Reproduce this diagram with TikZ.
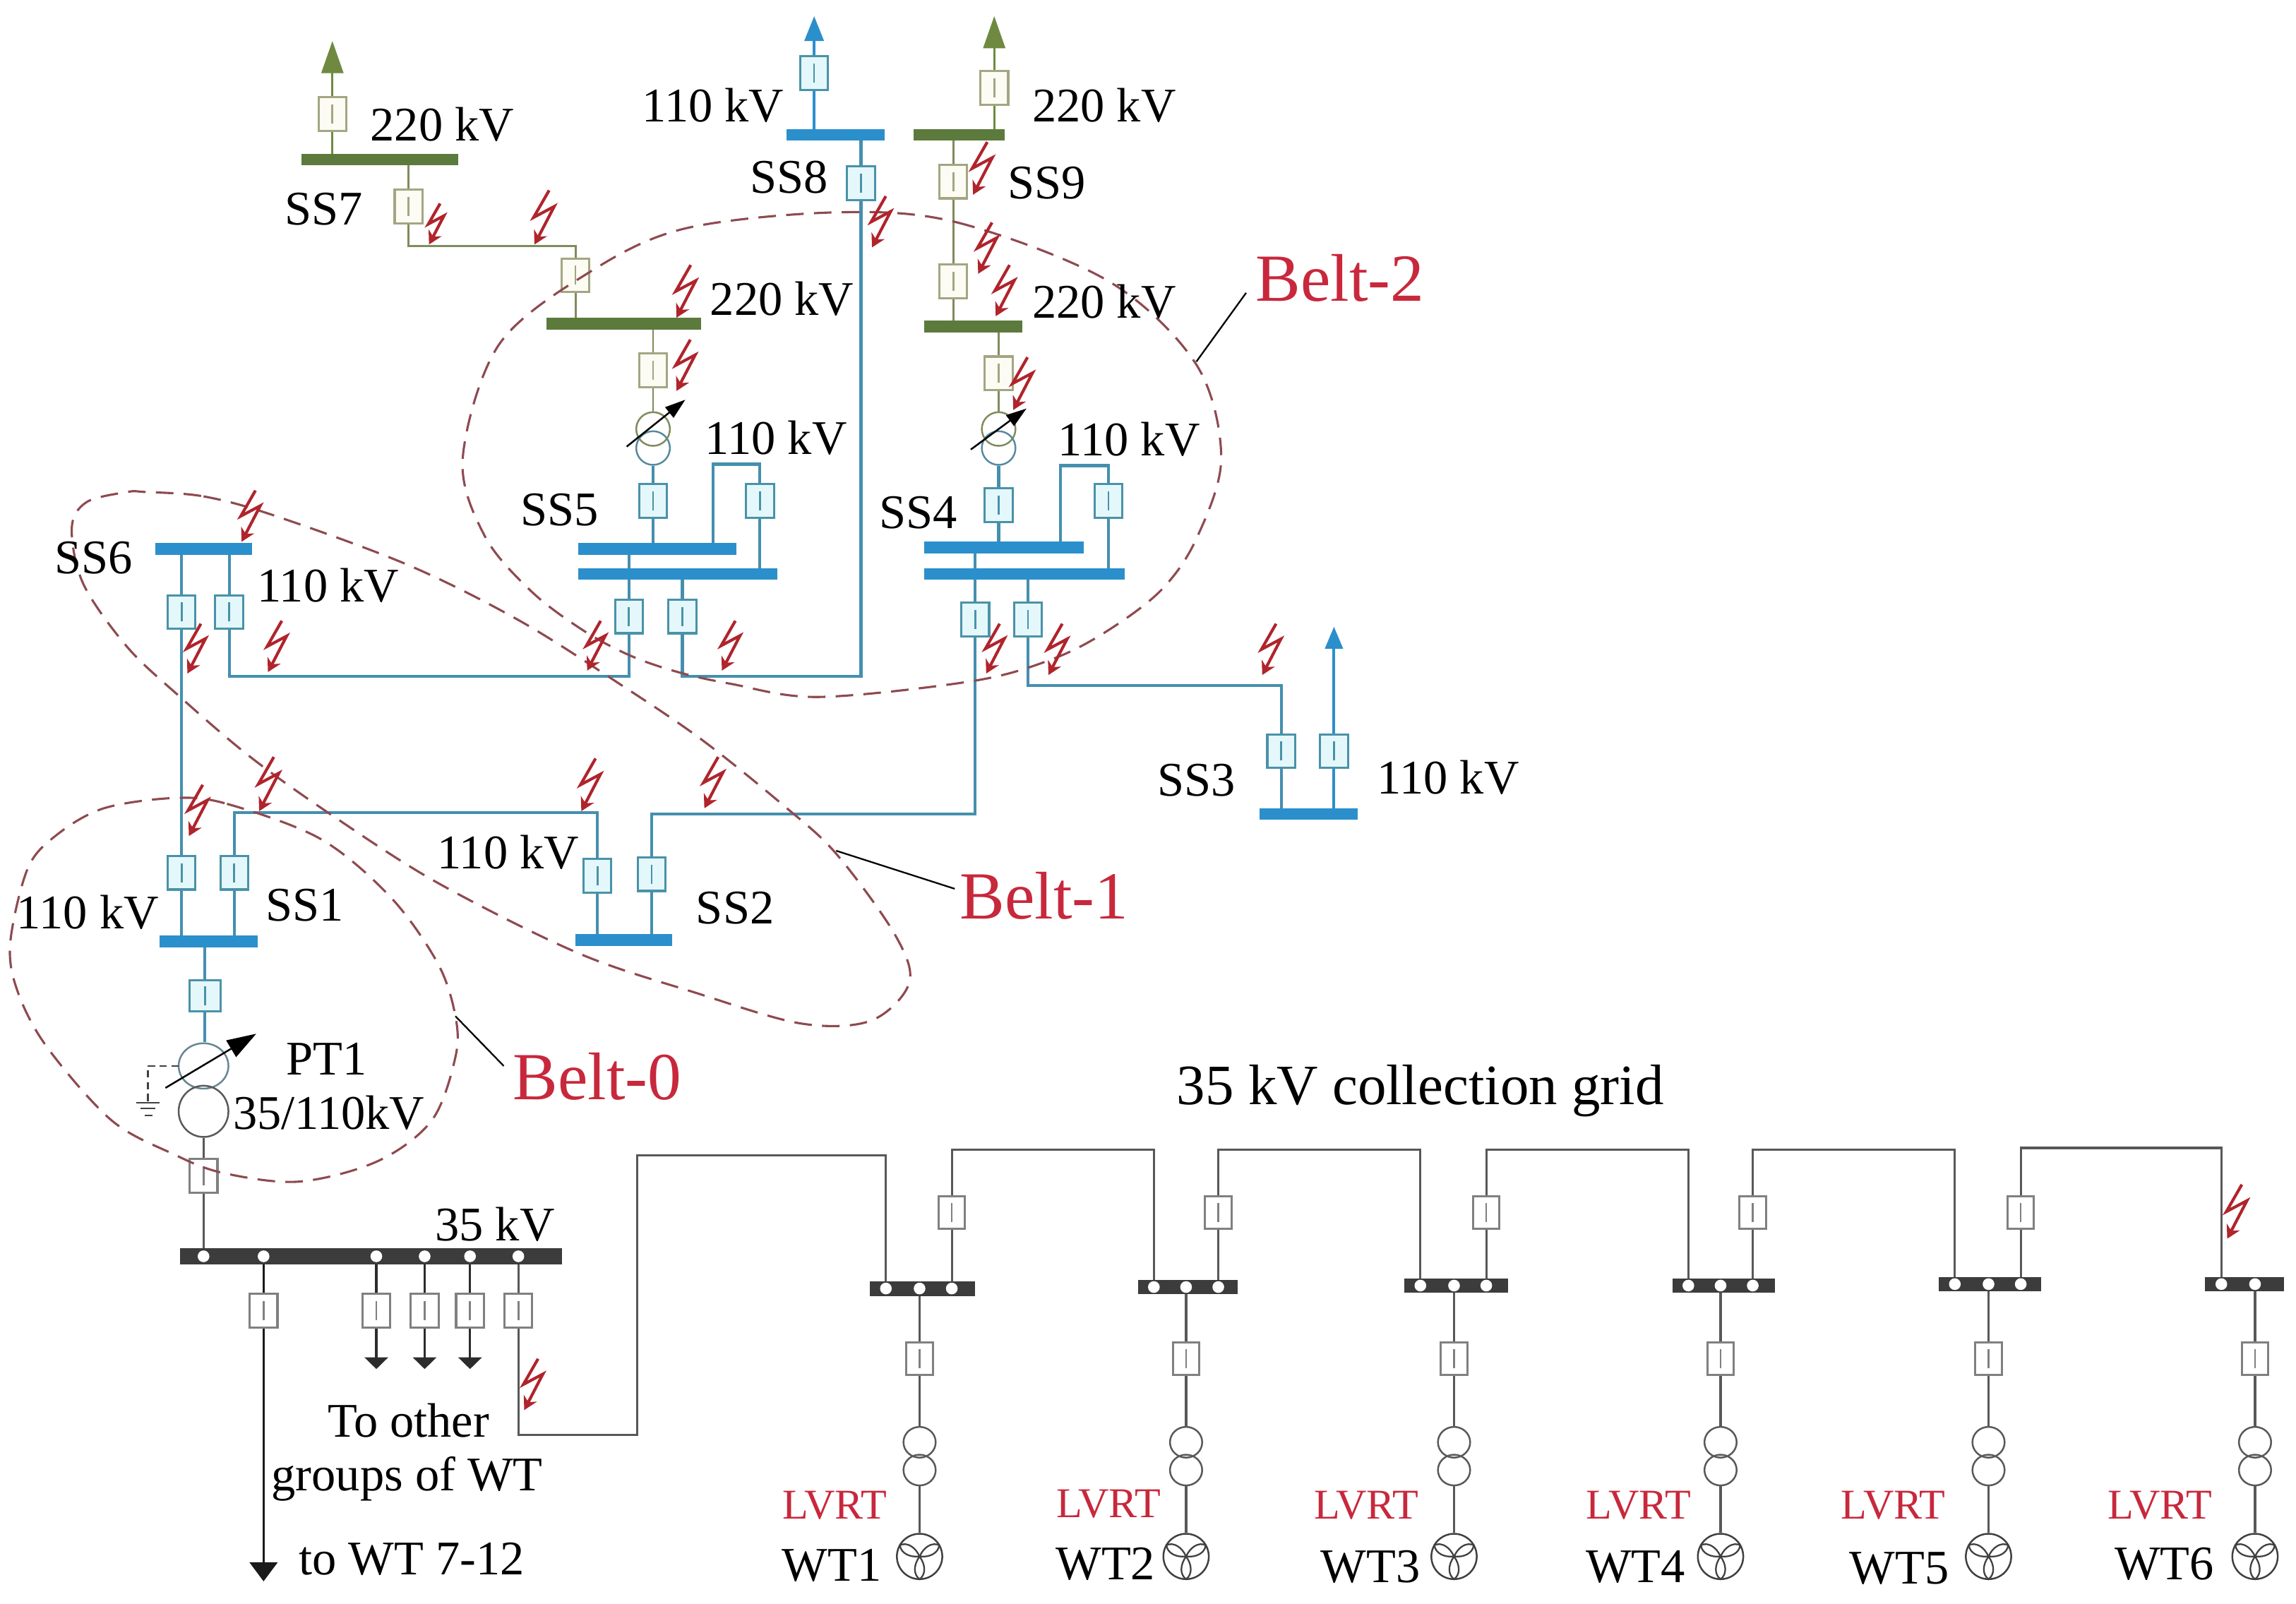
\documentclass[tikz,border=0pt]{standalone}
\usepackage{fontspec}
\setmainfont{Liberation Serif}
\usetikzlibrary{arrows.meta,shapes.geometric,backgrounds}
\definecolor{bedge}{HTML}{4A92A8}
\definecolor{bfill}{HTML}{E4F8FC}
\definecolor{bline}{HTML}{458FAE}
\definecolor{bbus}{HTML}{2B8FCB}
\definecolor{gedge}{HTML}{A3A682}
\definecolor{gfill}{HTML}{FCFCF4}
\definecolor{gline}{HTML}{7F8C5C}
\definecolor{gbus}{HTML}{5C7A3C}
\definecolor{garrow}{HTML}{6F8A40}
\definecolor{kedge}{HTML}{808080}
\definecolor{kline}{HTML}{585858}
\definecolor{kbus}{HTML}{3C3C3C}
\definecolor{boltc}{HTML}{B0242C}
\definecolor{beltc}{HTML}{8E4A50}
\definecolor{redtxt}{HTML}{C8283C}
\tikzset{
 brk/.style={rectangle,draw=#1,line width=1.5pt,minimum width=19pt,minimum height=23pt,inner sep=0pt,
   path picture={\draw[#1,line width=1.3pt] ([yshift=-6.5pt]path picture bounding box.center) -- ([yshift=6.5pt]path picture bounding box.center);}},
 brkB/.style={brk=bedge,fill=bfill},
 brkG/.style={brk=gedge,fill=gfill},
 brkK/.style={brk=kedge,fill=white},
 busB/.style={rectangle,fill=bbus,inner sep=0pt},
 busG/.style={rectangle,fill=gbus,inner sep=0pt},
 busK/.style={rectangle,fill=kbus,inner sep=0pt},
 lB/.style={draw=bline,line width=2pt},
 lG/.style={draw=gline,line width=1.4pt},
 lK/.style={draw=kline,line width=1.5pt},
 dotw/.style={circle,fill=white,inner sep=0pt,minimum size=8pt},
 lab/.style={font=\fontsize{33}{33}\selectfont,inner sep=0pt,text=black},
 beltlab/.style={font=\fontsize{46}{46}\selectfont,inner sep=0pt,text=redtxt},
 lvrt/.style={font=\fontsize{29}{29}\selectfont,inner sep=0pt,text=redtxt},
 belt/.style={draw=beltc,line width=1.5pt,dash pattern=on 12pt off 7pt},
 bolt/.style={draw=boltc,line width=2pt,-{Stealth[length=9pt,width=10pt]},line join=miter},
 xf/.style={ellipse,draw=#1,line width=1.2pt,inner sep=0pt,fill=none},
 turb/.style={circle,draw=black!75,line width=1.2pt,inner sep=0pt,minimum size=31pt},
 leader/.style={draw=black,line width=1.1pt},
}
\newcommand{\busbar}[6]{\node[#1,minimum width={(#4-#3)*1pt},minimum height={#6*1pt}] (#2) at ({(#3+#4)/2},#5) {};}
\newcommand{\boltat}[3]{\begin{scope}[shift={(#1,#2)},scale={#3/37}]\draw[bolt] (10,-37) -- (-0.6,-18.5) -- (13.5,-26) -- (0,0);\end{scope}}
\begin{document}
\begin{tikzpicture}[x=1pt,y=-1pt]
\useasboundingbox (0,0) rectangle (1568,1095);
% --- buses
\busbar{busG}{b7}{206}{313}{109}{8}
\busbar{busB}{b8}{537}{604}{92}{8}
\busbar{busG}{b9}{624}{686}{92}{8}
\busbar{busG}{b5g}{373}{479}{221}{8}
\busbar{busG}{b4g}{631}{698}{223}{8}
\busbar{busB}{b5u}{395}{503}{375}{8}
\busbar{busB}{b5l}{395}{531}{392}{8}
\busbar{busB}{b4u}{631}{740}{374}{8}
\busbar{busB}{b4l}{631}{768}{392}{8}
\busbar{busB}{b6}{106}{172}{375}{8}
\busbar{busB}{b3}{860}{927}{556}{8}
\busbar{busB}{b2}{393}{459}{642}{8}
\busbar{busB}{b1}{109}{176}{643}{8}
\busbar{busK}{b35}{123}{384}{858}{11}
% --- breakers
\node[brkG] (q7a) at (227,78) {};
\node[brkG] (q7b) at (279,141) {};
\node[brkG] (q5t) at (393,188) {};
\node[brkG] (q5g) at (446,253) {};
\node[brkB] (q8a) at (556,50) {};
\node[brkB] (q8b) at (588,125) {};
\node[brkG] (q9a) at (679,60) {};
\node[brkG] (q9b) at (651,124) {};
\node[brkG] (q9c) at (651,192) {};
\node[brkG] (q4g) at (682,255) {};
\node[brkB] (q5m) at (446,342) {};
\node[brkB] (q5n) at (519,342) {};
\node[brkB] (q4m) at (682,345) {};
\node[brkB] (q4n) at (757,342) {};
\node[brkB] (q5a) at (429.5,421) {};
\node[brkB] (q5b) at (466,421) {};
\node[brkB] (q4a) at (666,423) {};
\node[brkB] (q4b) at (702,423) {};
\node[brkB] (q6a) at (124,418) {};
\node[brkB] (q6b) at (156.5,418) {};
\node[brkB] (q3a) at (875,513) {};
\node[brkB] (q3b) at (911,513) {};
\node[brkB] (q2a) at (408,598) {};
\node[brkB] (q2b) at (445,597) {};
\node[brkB] (q1a) at (124,596) {};
\node[brkB] (q1b) at (160,596) {};
\node[brkB,minimum width=21pt,minimum height=21pt] (q1c) at (140,680) {};
\node[brkK] (qPT) at (139,803) {};
\node[brkK] (qa) at (180,895) {};
\node[brkK] (qb) at (257,895) {};
\node[brkK] (qc) at (290,895) {};
\node[brkK] (qd) at (321,895) {};
\node[brkK] (qe) at (354,895) {};
% --- transformers
\node[xf=gline,minimum width=23pt,minimum height=23pt] (t5u) at (446,293) {};
\node[xf=bline!70!gray,minimum width=23pt,minimum height=23pt] (t5l) at (446,306) {};
\node[xf=gline,minimum width=23pt,minimum height=23pt] (t4u) at (682,293) {};
\node[xf=bline!70!gray,minimum width=23pt,minimum height=23pt] (t4l) at (682,306) {};
\node[xf=bline!40!gray,minimum width=34pt,minimum height=31pt] (tPu) at (139,728) {};
\node[xf=black!65,minimum width=34pt,minimum height=35pt] (tPl) at (139,759) {};
% --- free ends and corners
\coordinate (a7) at (227,28);
\coordinate (a8) at (556,11);
\coordinate (a9) at (679,11);
\coordinate (a3) at (911,428);
\coordinate (c7) at (393,168);
\coordinate (c56) at (429.5,462);
\coordinate (c58) at (466,462);
\coordinate (c42) at (445,556);
\coordinate (c43) at (875,468);
\coordinate (c12) at (408,555);
\coordinate (cl1) at (354,980);
\coordinate (cl2) at (435,980);
\coordinate (cl3) at (435,789);
\coordinate (aTo) at (180,1080);
\coordinate (ab) at (257,935);
\coordinate (ac) at (290,935);
\coordinate (ad) at (321,935);
% --- 35 kV dots
\foreach \n/\x in {p/139,a/180,b/257,c/290,d/321,e/354} {\node[dotw] (dot\n) at (\x,858) {};}
% --- wind turbine strings
\foreach \i/\a/\b/\y/\da/\db/\dc/\lx/\ly/\wx/\wy in {
 1/594/666/880/605/628/650/570/1028/568/1069,
 2/777/845/879/788/810/832/757/1027/755/1068,
 3/959/1030/878/970/993/1015/933/1028/936/1070,
 4/1142/1212/878/1153/1175/1197/1119/1028/1117/1070,
 5/1324/1394/877/1335/1358/1380/1293/1028/1297/1071,
 6/1506/1560/877/1517/1540/0/1475/1028/1478/1068}{
 \busbar{busK}{w\i}{\a}{\b}{\y}{10}
 \node[dotw] (wd\i) at (\da,\y) {};
 \node[dotw] (we\i) at (\db,\y) {};
 \node[brkK,minimum width=18pt,minimum height=22pt] (wl\i) at (\db,928) {};
 \node[xf=black!65,minimum width=22pt,minimum height=21pt] (wa\i) at (\db,985) {};
 \node[xf=black!65,minimum width=22pt,minimum height=21pt] (wb\i) at (\db,1004) {};
 \node[turb] (wt\i) at (\db,1063) {};
 \begin{scope}[shift={(wt\i.center)}]
 \foreach \ang in {90,-30,210}{
  \draw[draw=black!75,line width=1.1pt] (0,0) .. controls ({\ang+36}:7) and ({\ang+20}:13) .. (\ang:15.5) .. controls ({\ang-20}:13) and ({\ang-36}:7) .. (0,0);
 }
 \end{scope}
 \node[lvrt] (lv\i) at (\lx,\ly) {LVRT};
 \node[lab] (wn\i) at (\wx,\wy) {WT\i};
 \ifnum\i<6
  \node[dotw] (wf\i) at (\dc,\y) {};
  \node[brkK,minimum width=18pt,minimum height=22pt] (wu\i) at (\dc,828) {};
 \fi
 \begin{pgfonlayer}{background}
 \draw[lK] (we\i) -- (wl\i) -- (wa\i.north);
 \draw[lK] (wb\i.south) -- (wt\i.north);
 \ifnum\i<6 \draw[lK] (wf\i) -- (wu\i); \fi
 \end{pgfonlayer}
}
% --- connectors (under the nodes)
\begin{pgfonlayer}{background}
 \draw[lG,-{Triangle[length=22pt,width=15pt]},color=garrow] (q7a |- b7) -- (q7a) -- (a7);
 \draw[lG] (q7b |- b7) -- (q7b) -- (q7b |- c7) -- (c7) -- (q5t) -- (q5t |- b5g);
 \draw[lG] (q5g |- b5g) -- (q5g) -- (t5u.north);
 \draw[lB,-{Triangle[length=17pt,width=13pt]},color=bbus] (q8a |- b8) -- (q8a) -- (a8);
 \draw[lB] (q8b |- b8) -- (q8b) -- (q8b |- c58) -- (c58) -- (q5b);
 \draw[lG,-{Triangle[length=22pt,width=15pt]},color=garrow] (q9a |- b9) -- (q9a) -- (a9);
 \draw[lG] (q9b |- b9) -- (q9b) -- (q9c) -- (q9c |- b4g);
 \draw[lG] (q4g |- b4g) -- (q4g) -- (t4u.north);
 \draw[lB] (t5l.south) -- (q5m) -- (q5m |- b5u);
 \draw[lB] (t4l.south) -- (q4m) -- (q4m |- b4u);
 \coordinate (l5) at (487,317);
 \coordinate (l4) at (724,318);
 \draw[lB] (l5 |- b5u) -- (l5) -- (q5n |- l5) -- (q5n) -- (q5n |- b5l);
 \draw[lB] (l4 |- b4u) -- (l4) -- (q4n |- l4) -- (q4n) -- (q4n |- b4l);
 \draw[lB] (q5a |- b5u) -- (q5a) -- (c56) -- (q6b |- c56) -- (q6b) -- (q6b |- b6);
 \draw[lB] (q5b |- b5l) -- (q5b);
 \draw[lB] (q4a |- b4u) -- (q4a) -- (q4a |- c42) -- (c42) -- (q2b) -- (q2b |- b2);
 \draw[lB] (q4b |- b4l) -- (q4b) -- (q4b |- c43) -- (c43) -- (q3a) -- (q3a |- b3);
 \draw[lB,-{Triangle[length=15pt,width=12pt]},color=bbus] (q3b |- b3) -- (q3b) -- (a3);
 \draw[lB] (q6a |- b6) -- (q6a) -- (q1a) -- (q1a |- b1);
 \draw[lB] (q1b |- b1) -- (q1b) -- (q1b |- c12) -- (c12) -- (q2a) -- (q2a |- b2);
 \draw[lB] (q1c |- b1) -- (q1c) -- (q1c |- tPu.north);
 \draw[lK] (tPl.south) -- (qPT) -- (dotp);
 \draw[lK,-{Triangle[length=13pt,width=19pt]},color=kline!30!black] (dota) -- (qa) -- (aTo);
 \draw[lK,-{Triangle[length=8pt,width=16pt]},color=kline!50!black] (dotb) -- (qb) -- (ab);
 \draw[lK,-{Triangle[length=8pt,width=16pt]},color=kline!50!black] (dotc) -- (qc) -- (ac);
 \draw[lK,-{Triangle[length=8pt,width=16pt]},color=kline!50!black] (dotd) -- (qd) -- (ad);
 \draw[lK] (dote) -- (qe) -- (cl1) -- (cl2) -- (cl3) -- (wd1 |- cl3) -- (wd1);
 \foreach \i/\j/\ty in {1/2/785,2/3/785,3/4/785,4/5/785,5/6/784}{
  \coordinate (tp\i) at (0,\ty);
  \draw[lK] (wu\i) -- (wu\i |- tp\i) -- (wd\j |- tp\i) -- (wd\j);
 }
\end{pgfonlayer}
% --- transformer tap arrows
\coordinate (ar5a) at (428,305); \coordinate (ar5b) at (468,273);
\coordinate (ar4a) at (663,307); \coordinate (ar4b) at (701,279);
\coordinate (arPa) at (113,743); \coordinate (arPb) at (175,706);
\draw[line width=1.2pt,-{Triangle[length=14pt,width=9pt]}] (ar5a) -- (ar5b);
\draw[line width=1.2pt,-{Triangle[length=14pt,width=9pt]}] (ar4a) -- (ar4b);
\draw[line width=1.2pt,-{Triangle[length=20pt,width=13pt]}] (arPa) -- (arPb);
% --- earth
\coordinate (gA) at (122,728); \coordinate (gB) at (101,728); \coordinate (gC) at (101,752);
\draw[line width=1pt,black!75,dash pattern=on 5pt off 3pt] (gA) -- (gB) -- (gC);
\coordinate (g1l) at (93,753); \coordinate (g1r) at (109,753);
\coordinate (g2l) at (96,757); \coordinate (g2r) at (106,757);
\coordinate (g3l) at (99,762); \coordinate (g3r) at (104,762);
\draw[line width=1pt,black!75] (g1l) -- (g1r) (g2l) -- (g2r) (g3l) -- (g3r);
% --- belts
\draw[belt] plot[smooth cycle,tension=.55] coordinates {(572,145)(654,152)(757,192)(817,249)(834,313)(817,368)(793,403)(756,431)(719,450)(665,465)(559,476)(499,467)(463,459)(431,448)(399,431)(363,404)(331,366)(316,313)(341,235)(404,185)(468,156)};
\draw[belt] plot[smooth cycle,tension=.55] coordinates {(99,336)(139,339)(187,352)(279,386)(355,424)(423,467)(479,505)(535,550)(571,583)(611,638)(621,671)(595,697)(547,699)(475,678)(395,651)(299,603)(227,557)(171,517)(123,476)(87,442)(57,399)(49,361)(59,343)(87,336)};
\draw[belt] plot[smooth cycle,tension=.55] coordinates {(119,545)(155,549)(219,573)(267,613)(299,658)(311,694)(311,722)(295,765)(258,793)(204,807)(152,801)(118,788)(76,765)(32,715)(12,677)(7,644)(19,593)(39,570)(71,552)};
\coordinate (ld2a) at (851,200); \coordinate (ld2b) at (817,247);
\coordinate (ld1a) at (652,607); \coordinate (ld1b) at (571,581);
\coordinate (ld0a) at (344,728); \coordinate (ld0b) at (311,694);
\draw[leader] (ld2a) -- (ld2b);
\draw[leader] (ld1a) -- (ld1b);
\draw[leader] (ld0a) -- (ld0b);
% --- faults
\boltat{293}{167}{28}
\boltat{365}{167}{37}
\boltat{462}{217}{36}
\boltat{462}{267}{35}
\boltat{595.5}{169}{35}
\boltat{664.5}{133}{36}
\boltat{668}{187}{35}
\boltat{680}{216}{35}
\boltat{692}{280}{36}
\boltat{165}{370}{35}
\boltat{128}{460}{34}
\boltat{183}{459}{35}
\boltat{401}{458}{34}
\boltat{493}{458}{34}
\boltat{673.5}{460}{34}
\boltat{716}{461}{35}
\boltat{862}{461}{35}
\boltat{129}{571}{35}
\boltat{177}{554}{37}
\boltat{397}{554}{36}
\boltat{481}{552}{35}
\boltat{358}{963}{35}
\boltat{1521}{846}{37}
% --- labels
\node[lab] (tx1) at (302,85) {220 kV};
\node[lab] (tx2) at (221,143) {SS7};
\node[lab] (tx3) at (487,72) {110 kV};
\node[lab] (tx4) at (754,72) {220 kV};
\node[lab] (tx5) at (539,121) {SS8};
\node[lab] (tx6) at (715,125) {SS9};
\node[lab] (tx7) at (534,204) {220 kV};
\node[lab] (tx8) at (754,206) {220 kV};
\node[lab] (tx9) at (530,299) {110 kV};
\node[lab] (tx10) at (771,300) {110 kV};
\node[lab] (tx11) at (382,348) {SS5};
\node[lab] (tx12) at (627,350) {SS4};
\node[lab] (tx13) at (64,381) {SS6};
\node[lab] (tx14) at (224,400) {110 kV};
\node[lab] (tx15) at (817,533) {SS3};
\node[lab] (tx16) at (989,531) {110 kV};
\node[lab] (tx17) at (347,582) {110 kV};
\node[lab] (tx18) at (60,623) {110 kV};
\node[lab] (tx19) at (208,618) {SS1};
\node[lab] (tx20) at (502,620) {SS2};
\node[lab] (tx21) at (223,723) {PT1};
\node[lab,font=\fontsize{33}{33}\selectfont] (tx22) at (224.5,760) {35/110kV};
\node[lab] (tx23) at (338,836) {35 kV};
\node[lab,font=\fontsize{39}{39}\selectfont] (tx24) at (970,745) {35 kV collection grid};
\node[lab] (tx25) at (279,970) {To other};
\node[lab] (tx26) at (278,1010) {groups of WT};
\node[lab] (tx27) at (281,1065) {to WT 7-12};
\node[beltlab] (bl2) at (915,190) {Belt-2};
\node[beltlab] (bl1) at (713,612) {Belt-1};
\node[beltlab] (bl0) at (408,735) {Belt-0};
\end{tikzpicture}
\end{document}
